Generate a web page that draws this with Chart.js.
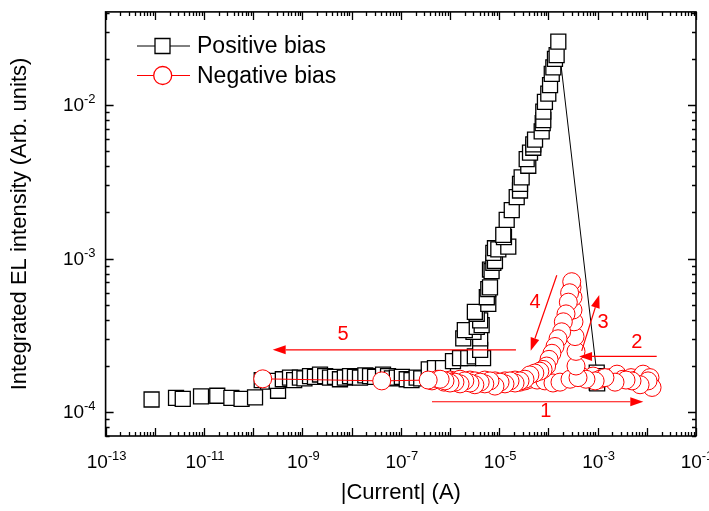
<!DOCTYPE html>
<html lang="en">
<head>
<meta charset="UTF-8">
<title>Integrated EL intensity vs current</title>
<script src="https://cdn.jsdelivr.net/npm/chart.js"></script>
<style>
  html, body { margin: 0; padding: 0; background: #fff; }
</style>
</head>
<body>
<canvas id="elChart" width="709" height="511"></canvas>
<script>
// Positive bias sweep: plateau, then rise up to the peak, then the jump back to ~1 mA
const posCurrent = [
  8.6e-13, 2.7e-12, 3.7e-12, 8.7e-12, 1.86e-11, 3.6e-11, 5.8e-11, 1.09e-10,
  1.49e-10, 2.0e-10, 3.2e-10, 3.0e-10, 4.0e-10, 5.6e-10, 6.8e-10, 8.9e-10,
  1.1e-9, 1.43e-9, 1.8e-9, 2.28e-9, 2.9e-9, 3.64e-9, 4.6e-9, 5.8e-9, 7.3e-9,
  9.3e-9, 1.17e-8, 1.48e-8, 1.9e-8, 2.37e-8, 3.0e-8, 4.35e-8, 5.5e-8, 6.6e-8,
  8.3e-8, 1.05e-7, 1.32e-7, 1.65e-7, 2.1e-7, 2.6e-7, 3.7e-7,
  4.95e-7, 7.2e-7, 1.15e-6, 1.6e-6, 2.35e-6, 3.2e-6, 4.7e-6, 4.1e-6, 1.86e-6,
  4.1e-6, 3.0e-6, 2.0e-6, 3.5e-6, 4.4e-6, 4.1e-6, 3.5e-6, 3.2e-6, 6.0e-6,
  5.6e-6, 6.0e-6, 6.5e-6, 6.5e-6, 7.0e-6, 7.6e-6, 8.2e-6, 7.6e-6, 8.2e-6,
  9.6e-6, 1.53e-5, 1.25e-5, 1.21e-5, 1.42e-5, 1.8e-5, 2.27e-5, 2.65e-5,
  2.65e-5, 2.86e-5, 3.9e-5, 3.62e-5, 4.23e-5, 4.93e-5, 4.93e-5, 5.35e-5,
  7.3e-5, 7.66e-5, 7.87e-5, 7.87e-5, 8.5e-5, 9.95e-5, 1.08e-4, 1.17e-4,
  1.26e-4, 1.36e-4, 1.47e-4, 1.59e-4,
  9.6e-4, 9.5e-4, 9.7e-4, 9.6e-4, 9.8e-4
];
const posIntensity = [
  1.21e-4, 1.24e-4, 1.22e-4, 1.27e-4, 1.28e-4, 1.24e-4, 1.22e-4, 1.25e-4,
  1.62e-4, 1.58e-4, 1.38e-4, 1.60e-4, 1.64e-4, 1.68e-4, 1.62e-4, 1.68e-4,
  1.66e-4, 1.72e-4, 1.70e-4, 1.76e-4, 1.72e-4, 1.68e-4, 1.70e-4, 1.64e-4, 1.68e-4,
  1.72e-4, 1.70e-4, 1.68e-4, 1.74e-4, 1.72e-4, 1.70e-4, 1.76e-4, 1.72e-4, 1.66e-4,
  1.68e-4, 1.70e-4, 1.64e-4, 1.62e-4, 1.68e-4, 1.66e-4, 1.90e-4,
  1.94e-4, 1.94e-4, 2.15e-4, 2.25e-4, 2.25e-4, 2.31e-4, 2.25e-4, 2.55e-4, 3.03e-4,
  3.03e-4, 3.34e-4, 3.43e-4, 3.60e-4, 3.69e-4, 3.97e-4, 4.38e-4, 4.50e-4, 5.08e-4,
  5.61e-4, 6.34e-4, 6.50e-4, 8.50e-4, 8.30e-4, 9.40e-4, 9.66e-4, 1.09e-3, 1.17e-3,
  1.15e-3, 1.20e-3, 1.38e-3, 1.43e-3, 1.79e-3, 2.07e-3, 2.52e-3, 2.78e-3,
  3.07e-3, 3.39e-3, 4.03e-3, 4.45e-3, 4.91e-3, 5.28e-3, 5.55e-3, 5.97e-3,
  6.74e-3, 7.64e-3, 8.00e-3, 9.07e-3, 1.05e-2, 1.19e-2, 1.35e-2, 1.60e-2,
  1.76e-2, 2.00e-2, 2.12e-2, 2.59e-2,
  1.81e-4, 1.72e-4, 1.62e-4, 1.56e-4, 1.54e-4
];

// Negative bias sweep: steps 1 -> 2 -> 3 -> 4 -> 5
const negCurrent = [
  4.3e-7, 5.7e-7, 7.6e-7, 1.0e-6, 1.26e-6, 1.6e-6, 2.0e-6, 2.55e-6, 3.2e-6,
  4.1e-6, 5.1e-6, 6.5e-6, 8.2e-6, 1.04e-5, 1.31e-5, 1.66e-5, 2.1e-5, 2.65e-5,
  3.34e-5, 4.2e-5, 5.9e-5, 8.5e-5, 1.24e-4, 1.72e-4, 2.75e-4, 4.6e-4, 8.1e-4,
  1.12e-3, 1.79e-3, 2.48e-3, 3.28e-3, 4.78e-3, 6.6e-3, 8.4e-3, 1.16e-2, 1.28e-2,
  1.06e-2, 7.3e-3, 5.0e-3, 3.78e-3, 2.26e-3, 1.41e-3, 8.9e-4, 5.8e-4, 4.0e-4,
  3.64e-4, 3.64e-4, 3.48e-4, 3.31e-4, 3.16e-4, 3.16e-4, 3.02e-4, 2.98e-4,
  2.7e-4, 2.54e-4, 2.28e-4, 2.01e-4, 1.86e-4, 1.57e-4, 1.36e-4, 1.18e-4, 1.03e-4,
  9.2e-5, 7.8e-5, 6.7e-5, 5.3e-5, 4.2e-5, 3.34e-5, 2.65e-5, 2.1e-5, 1.66e-5,
  1.31e-5, 1.04e-5, 8.2e-6, 6.5e-6, 5.1e-6, 4.1e-6, 3.2e-6, 2.55e-6, 2.0e-6,
  1.6e-6, 1.26e-6, 1.0e-6, 7.9e-7, 6.3e-7,
  3.6e-7, 4.1e-8, 1.56e-10
];
const negIntensity = [
  1.60e-4, 1.64e-4, 1.57e-4, 1.62e-4, 1.60e-4, 1.64e-4, 1.57e-4, 1.62e-4, 1.60e-4,
  1.55e-4, 1.62e-4, 1.57e-4, 1.60e-4, 1.53e-4, 1.60e-4, 1.57e-4, 1.62e-4, 1.57e-4,
  1.60e-4, 1.64e-4, 1.62e-4, 1.60e-4, 1.55e-4, 1.57e-4, 1.64e-4, 1.72e-4, 1.72e-4,
  1.64e-4, 1.68e-4, 1.77e-4, 1.64e-4, 1.68e-4, 1.64e-4, 1.77e-4, 1.68e-4, 1.45e-4,
  1.60e-4, 1.51e-4, 1.60e-4, 1.62e-4, 1.57e-4, 1.68e-4, 1.60e-4, 1.64e-4, 1.68e-4,
  2.00e-4, 2.49e-4, 3.11e-4, 3.88e-4, 4.63e-4, 5.61e-4, 6.50e-4, 7.08e-4,
  6.00e-4, 5.21e-4, 4.37e-4, 3.88e-4, 3.34e-4, 3.01e-4, 2.68e-4, 2.42e-4, 2.21e-4,
  2.00e-4, 1.90e-4, 1.85e-4, 1.80e-4, 1.75e-4, 1.64e-4, 1.60e-4, 1.55e-4, 1.60e-4,
  1.53e-4, 1.57e-4, 1.48e-4, 1.60e-4, 1.53e-4, 1.57e-4, 1.51e-4, 1.55e-4, 1.60e-4,
  1.53e-4, 1.57e-4, 1.55e-4, 1.60e-4, 1.64e-4,
  1.62e-4, 1.60e-4, 1.65e-4
];

// axis decades that carry a label (10^n)
const xLabelExps = [-13, -11, -9, -7, -5, -3, -1];
const yLabelExps = [-4, -3, -2];

// sweep-direction arrows (data coordinates) and their step numbers
const stepLabels = ['1', '2', '3', '4', '5'];
const arrowFrom = [[4.3e-7, 1.17e-4], [1.59e-2, 2.31e-4], [4.75e-4, 2.51e-4], [1.48e-4, 7.8e-4], [2.19e-5, 2.55e-4]];
const arrowTo   = [[8.5e-3, 1.17e-4], [4.2e-4, 2.31e-4], [1.08e-3, 5.81e-4], [4.37e-5, 2.51e-4], [2.49e-10, 2.55e-4]];
const labelAt   = [[8.9e-5, 1.01e-4], [6.3e-3, 2.85e-4], [1.29e-3, 3.82e-4], [5.35e-5, 5.21e-4], [6.7e-9, 3.2e-4]];

const FONT = '"Liberation Sans", Arial, sans-serif';
const RED = '#ff0000';

const posPeak = posIntensity.indexOf(Math.max(...posIntensity));

function drawPow(ctx, exp, x, y, align) {
  // "10" with a superscript exponent
  ctx.font = '19px ' + FONT;
  const wb = ctx.measureText('10').width;
  ctx.font = '13px ' + FONT;
  const sup = String(exp);
  const ws = ctx.measureText(sup).width;
  const total = wb + ws;
  const x0 = align === 'right' ? x - total : x - total / 2;
  ctx.textAlign = 'left';
  ctx.textBaseline = 'alphabetic';
  ctx.font = '19px ' + FONT;
  ctx.fillText('10', x0, y);
  ctx.font = '13px ' + FONT;
  ctx.fillText(sup, x0 + wb, y - 8);
}

function drawArrow(ctx, x0, y0, x1, y1) {
  const ang = Math.atan2(y1 - y0, x1 - x0);
  const len = 13, half = 4.5;
  const bx = x1 - len * Math.cos(ang), by = y1 - len * Math.sin(ang);
  ctx.beginPath();
  ctx.moveTo(x0, y0);
  ctx.lineTo(bx, by);
  ctx.stroke();
  ctx.beginPath();
  ctx.moveTo(x1, y1);
  ctx.lineTo(bx + half * Math.sin(ang), by - half * Math.cos(ang));
  ctx.lineTo(bx - half * Math.sin(ang), by + half * Math.cos(ang));
  ctx.closePath();
  ctx.fill();
}

const originFrame = {
  id: 'originFrame',
  afterDraw(chart) {
    const { ctx, chartArea: a } = chart;
    const xs = chart.scales.x, ys = chart.scales.y;
    ctx.save();

    // arrows + step numbers
    ctx.strokeStyle = RED;
    ctx.fillStyle = RED;
    ctx.lineWidth = 1.2;
    for (let i = 0; i < stepLabels.length; i++) {
      drawArrow(ctx,
        xs.getPixelForValue(arrowFrom[i][0]), ys.getPixelForValue(arrowFrom[i][1]),
        xs.getPixelForValue(arrowTo[i][0]), ys.getPixelForValue(arrowTo[i][1]));
      ctx.font = '20px ' + FONT;
      ctx.textAlign = 'center';
      ctx.textBaseline = 'middle';
      ctx.fillText(stepLabels[i], xs.getPixelForValue(labelAt[i][0]), ys.getPixelForValue(labelAt[i][1]));
    }

    // frame
    ctx.strokeStyle = '#000';
    ctx.fillStyle = '#000';
    ctx.lineWidth = 1.6;
    ctx.strokeRect(a.left, a.top, a.right - a.left, a.bottom - a.top);

    // ticks, inward on all four sides
    ctx.lineWidth = 1.3;
    ctx.beginPath();
    for (let e = -13; e <= -1; e++) {
      for (let m = 1; m <= 9; m++) {
        const v = m * Math.pow(10, e);
        if (v < xs.min * 0.999 || v > xs.max * 1.001) continue;
        const px = Math.round(xs.getPixelForValue(v)) + 0.5;
        const len = m === 1 ? 8 : 4;
        ctx.moveTo(px, a.bottom); ctx.lineTo(px, a.bottom - len);
        ctx.moveTo(px, a.top); ctx.lineTo(px, a.top + len);
      }
    }
    for (let e = -5; e <= -1; e++) {
      for (let m = 1; m <= 9; m++) {
        const v = m * Math.pow(10, e);
        if (v < ys.min || v > ys.max) continue;
        const py = Math.round(ys.getPixelForValue(v)) + 0.5;
        const len = m === 1 ? 8 : 4;
        ctx.moveTo(a.left, py); ctx.lineTo(a.left + len, py);
        ctx.moveTo(a.right, py); ctx.lineTo(a.right - len, py);
      }
    }
    ctx.stroke();

    // tick labels
    xLabelExps.forEach(e => drawPow(ctx, e, xs.getPixelForValue(Math.pow(10, e)) + 1, a.bottom + 32, 'center'));
    yLabelExps.forEach(e => drawPow(ctx, e, a.left - 10, ys.getPixelForValue(Math.pow(10, e)) + 6, 'right'));

    // axis titles
    ctx.font = '22px ' + FONT;
    ctx.textAlign = 'center';
    ctx.textBaseline = 'middle';
    ctx.fillText('|Current| (A)', (a.left + a.right) / 2, 493);
    ctx.save();
    ctx.translate(20, (a.top + a.bottom) / 2);
    ctx.rotate(-Math.PI / 2);
    ctx.fillText('Integrated EL intensity (Arb. units)', 0, 0);
    ctx.restore();

    // legend
    const rows = [
      { text: 'Positive bias', color: '#000', style: 'rect', y: 46 },
      { text: 'Negative bias', color: RED, style: 'circle', y: 75.5 }
    ];
    rows.forEach(r => {
      ctx.strokeStyle = r.color;
      ctx.lineWidth = 1;
      ctx.beginPath();
      ctx.moveTo(137, r.y); ctx.lineTo(190, r.y);
      ctx.stroke();
      ctx.fillStyle = '#fff';
      ctx.lineWidth = 1.3;
      ctx.beginPath();
      if (r.style === 'rect') ctx.rect(155, r.y - 7.5, 15, 15);
      else ctx.arc(162.7, r.y, 9, 0, Math.PI * 2);
      ctx.fill();
      ctx.stroke();
      ctx.fillStyle = '#000';
      ctx.font = '23px ' + FONT;
      ctx.textAlign = 'left';
      ctx.textBaseline = 'middle';
      ctx.fillText(r.text, 197, r.y + 1);
    });

    ctx.restore();
  }
};

const ctx = document.getElementById('elChart').getContext('2d');
new Chart(ctx, {
  type: 'scatter',
  data: {
    datasets: [
      {
        label: 'Positive bias',
        data: posCurrent.map((c, i) => ({ x: c, y: posIntensity[i] })),
        showLine: true,
        borderColor: '#000',
        borderWidth: 1,
        segment: {
          borderColor: s => (s.p0DataIndex >= posPeak ? '#000' : 'rgba(0,0,0,0)')
        },
        pointStyle: 'rect',
        pointRadius: 10.6,
        pointBorderWidth: 1.3,
        pointBorderColor: '#000',
        pointBackgroundColor: '#fff',
        order: 2
      },
      {
        label: 'Negative bias',
        data: negCurrent.map((c, i) => ({ x: c, y: negIntensity[i] })),
        showLine: true,
        borderColor: RED,
        borderWidth: 1,
        pointStyle: 'circle',
        pointRadius: 9,
        pointBorderWidth: 1,
        pointBorderColor: RED,
        pointBackgroundColor: '#fff',
        order: 1
      }
    ]
  },
  options: {
    responsive: false,
    animation: false,
    devicePixelRatio: 1,
    layout: { padding: { top: 5, right: 13, left: 0, bottom: 0 } },
    plugins: { legend: { display: false }, tooltip: { enabled: false } },
    scales: {
      x: {
        type: 'logarithmic',
        min: 1e-13,
        max: 1e-1,
        grid: { display: false },
        border: { display: false },
        ticks: { display: false },
        afterFit: s => { s.height = 75; }
      },
      y: {
        type: 'logarithmic',
        min: 7e-5,
        max: 0.0405,
        grid: { display: false },
        border: { display: false },
        ticks: { display: false },
        afterFit: s => { s.width = 105.6; }
      }
    }
  },
  plugins: [originFrame]
});
</script>
</body>
</html>
